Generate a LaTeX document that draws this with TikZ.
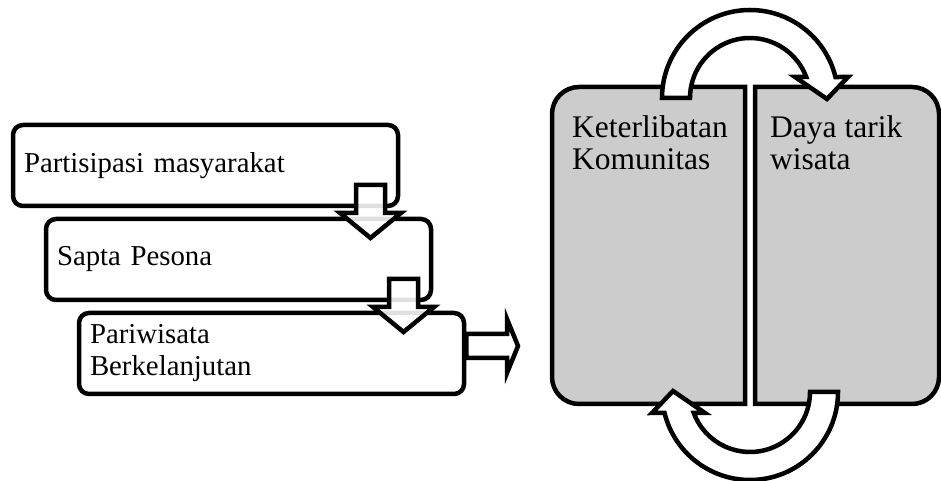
\documentclass[tikz,border=0pt]{standalone}
\usepackage{fontspec}
\setmainfont{Liberation Serif}
\definecolor{boxgray}{RGB}{204,204,204}
\begin{document}
\begin{tikzpicture}[x=1pt,y=1pt,
  stepbox/.style={draw=black, line width=4.5pt, rounded corners=10pt, fill=white,
    minimum width=385pt, minimum height=81pt, inner xsep=11pt, inner ysep=0pt,
    text width=363pt, align=left, font=\fontsize{28.8pt}{32pt}\selectfont},
  blockarrow/.style={draw=black, line width=4.5pt, fill=white, fill opacity=0.88, line join=miter},
  bigbox/.style={draw=black, line width=4.5pt, fill=boxgray},
  arcarrow/.style={draw=black, line width=4.5pt, fill=white, line join=miter},
  bigtext/.style={anchor=base west, inner sep=0pt, align=left,
    font=\fontsize{31.5pt}{32pt}\selectfont}]
\useasboundingbox (0,0) rectangle (941,481);

% left column
\node[stepbox] (b1) at (205.5,315.5) {Partisipasi masyarakat};
\node[stepbox] (b2) at (238.5,221.5) {Sapta Pesona};
\node[stepbox] (b3) at (271.5,127.5) {Pariwisata\\Berkelanjutan};

\draw[blockarrow] (356,296) -- (385,296) -- (385,268) -- (401,268) -- (370.5,243)
  -- (340,268) -- (356,268) -- cycle;
\draw[blockarrow] (389,202) -- (418,202) -- (418,174) -- (434,174) -- (403.5,149)
  -- (373,174) -- (389,174) -- cycle;
\draw[blockarrow] (b3.east |- 0,147) -- (507,147) -- (507,162) -- (518,135)
  -- (507,108) -- (507,123) -- (b3.east |- 0,123) -- cycle;

% right block
\draw[bigbox] (745,394) -- (579,394) .. controls (564.1,394) and (552,381.9) .. (552,367)
  -- (552,104) .. controls (552,89.1) and (564.1,77) .. (579,77) -- (745,77) -- cycle;
\draw[bigbox] (755,394) -- (912,394) .. controls (926.9,394) and (939,381.9) .. (939,367)
  -- (939,104) .. controls (939,89.1) and (926.9,77) .. (912,77) -- (755,77) -- cycle;

\node[bigtext] (k) at (572,343) {\begin{tabular}[t]{@{}l@{}}Keterlibatan\\Komunitas\end{tabular}};
\node[bigtext] (d) at (770,343) {\begin{tabular}[t]{@{}l@{}}Daya tarik\\wisata\end{tabular}};

% circular arrows
\draw[arcarrow] (662,383) arc[start angle=180, end angle=13.8, radius=88]
  -- (848,404) -- (827,382) -- (795,404) -- (806.2,404)
  arc[start angle=20.49, end angle=180, radius=60] -- cycle;
\begin{scope}[rotate around={180:(750,236)}]
\draw[arcarrow] (662,383) arc[start angle=180, end angle=13.8, radius=88]
  -- (848,404) -- (827,382) -- (795,404) -- (806.2,404)
  arc[start angle=20.49, end angle=180, radius=60] -- cycle;
\end{scope}
\end{tikzpicture}
\end{document}
